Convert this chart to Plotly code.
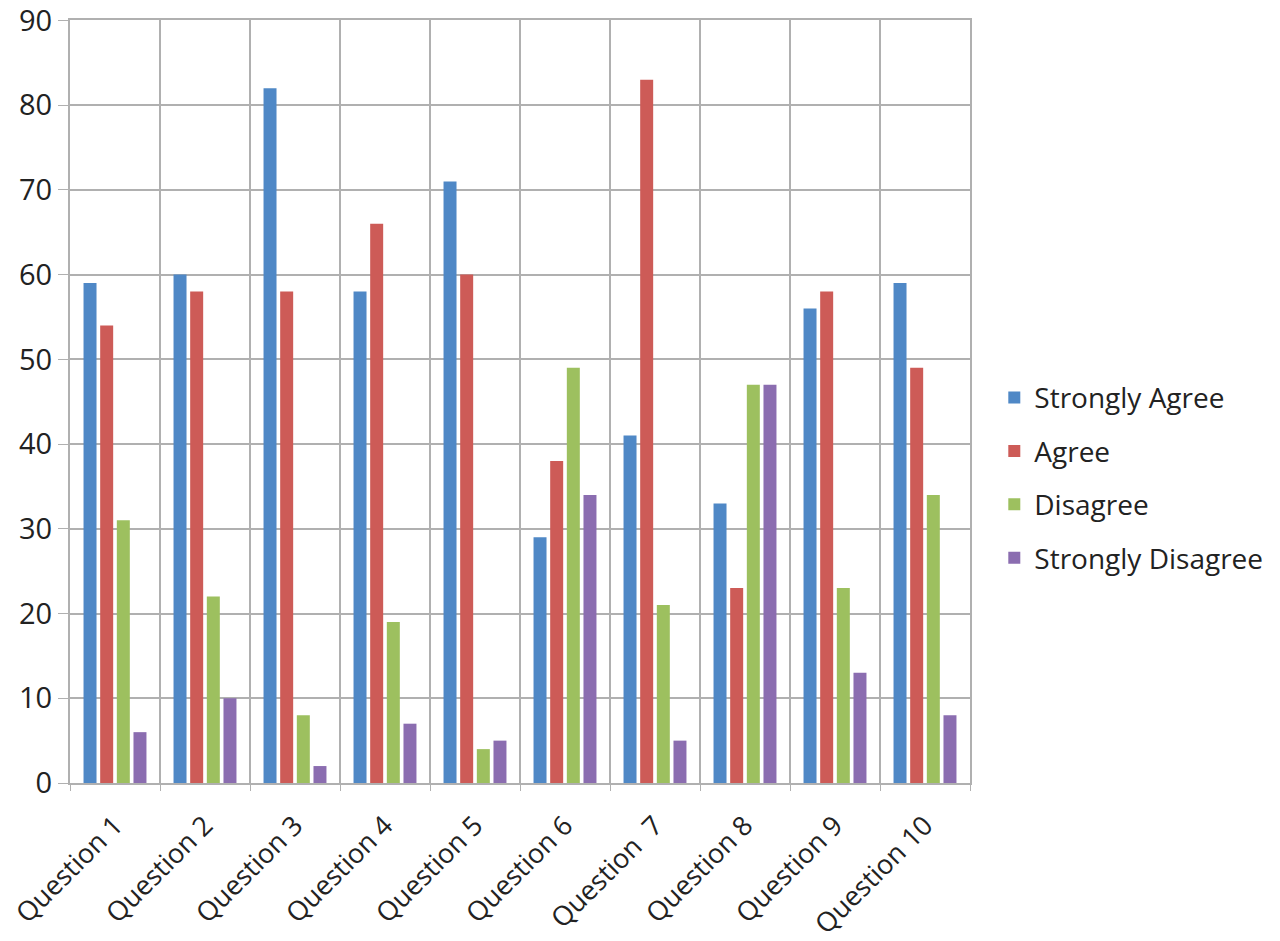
import plotly.graph_objects as go

questions = ["Question 1", "Question 2", "Question 3", "Question 4", "Question 5",
             "Question 6", "Question  7", "Question 8", "Question 9", "Question 10"]

strongly_agree = [59, 60, 82, 58, 71, 29, 41, 33, 56, 59]
agree = [54, 58, 58, 66, 60, 38, 83, 23, 58, 49]
disagree = [31, 22, 8, 19, 4, 49, 21, 47, 23, 34]
strongly_disagree = [6, 10, 2, 7, 5, 34, 5, 47, 13, 8]

y_ticks = [0, 10, 20, 30, 40, 50, 60, 70, 80, 90]

series = [
    ("Strongly Agree", strongly_agree, "#4F88C6"),
    ("Agree", agree, "#CD5B57"),
    ("Disagree", disagree, "#9DC05F"),
    ("Strongly Disagree", strongly_disagree, "#8B6DB0"),
]

fig = go.Figure()
for name, vals, color in series:
    fig.add_trace(go.Bar(
        x=questions, y=vals, name=name, legendgroup=name,
        marker=dict(color=color, line=dict(width=0)),
    ))

font_family = "Open Sans, Noto Sans, sans-serif"

fig.update_layout(
    width=1280, height=941,
    margin=dict(l=70, r=310, t=20, b=158, autoexpand=False),
    paper_bgcolor="white", plot_bgcolor="white",
    barmode="group", bargap=0.26, bargroupgap=0.22,
    font=dict(family=font_family, color="#222222"),
    legend=dict(
        x=1.027, y=0.40, xanchor="left", yanchor="middle",
        font=dict(size=28, color="#222222"),
        tracegroupgap=14, traceorder="grouped",
        itemwidth=30,
    ),
    showlegend=True,
)

fig.update_xaxes(
    type="category", tickson="boundaries", automargin=False,
    showgrid=True, gridcolor="#B0B0B0", gridwidth=2,
    showline=True, linecolor="#B0B0B0", linewidth=2, mirror=True,
    ticks="outside", ticklen=6, tickcolor="#B0B0B0",
    tickangle=-45, tickfont=dict(size=27, color="#222222"),
    ticklabelstandoff=14,
)
fig.update_yaxes(
    range=[0, 90.05], tickvals=y_ticks, automargin=False,
    ticklabeloverflow="allow",
    showgrid=True, gridcolor="#B0B0B0", gridwidth=2,
    showline=True, linecolor="#B0B0B0", linewidth=2, mirror=True,
    ticks="outside", ticklen=10, tickcolor="#B0B0B0",
    tickfont=dict(size=29, color="#222222"),
    zeroline=False,
)

fig.write_html("out.html")
